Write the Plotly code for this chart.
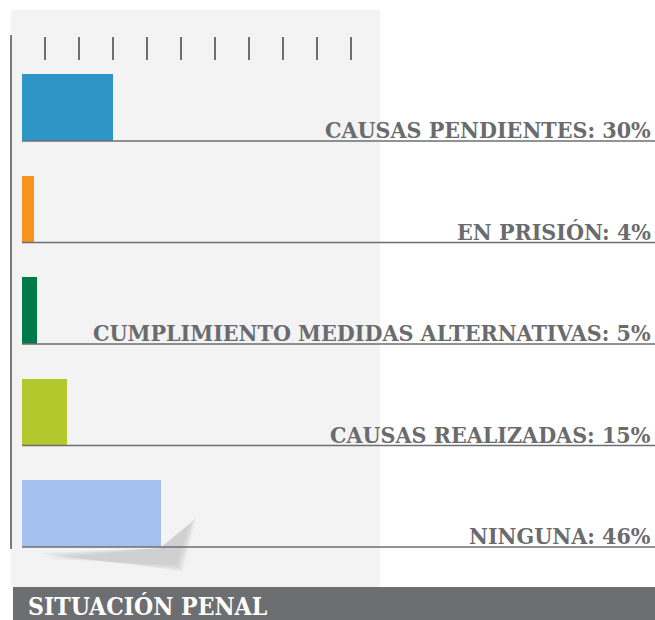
import plotly.graph_objects as go

categories = ["CAUSAS PENDIENTES", "EN PRISIÓN", "CUMPLIMIENTO MEDIDAS ALTERNATIVAS",
              "CAUSAS REALIZADAS", "NINGUNA"]
values = [30, 4, 5, 15, 46]
colors = ["#2e96c7", "#f7941d", "#00794a", "#b2c82c", "#a4c1ee"]
title = "SITUACIÓN PENAL"

W, H = 655, 620
X0 = 22          # pixel of value 0
PX_PER = 3.03    # pixels per percent
xr = [-X0 / PX_PER, (W - X0) / PX_PER]
TOP, STEP = 107.5, 101.5
yr = [(H - TOP) / STEP, -TOP / STEP]
BW = 67 / STEP
FONT = "DejaVu Serif Condensed, DejaVu Serif, serif"

def px(x):
    return x / W

def py(y):
    return 1 - y / H

fig = go.Figure()
fig.add_trace(go.Bar(
    x=values, y=categories, orientation="h", marker=dict(color=colors, line=dict(width=0)),
    width=BW, hoverinfo="skip", showlegend=False,
))

shapes = []
# background panel
shapes.append(dict(type="rect", xref="paper", yref="paper", x0=px(11), x1=px(380),
                   y0=py(587), y1=py(10), fillcolor="#f3f3f3", line=dict(width=0), layer="below"))
# soft shadow under last bar
for i, op in enumerate([0.04, 0.05, 0.06, 0.08]):
    d = 8 - 2 * i
    shapes.append(dict(type="path", xref="paper", yref="paper",
                       path=f"M {px(38+d)},{py(551+d)} L {px(184-d)},{py(573-d)} L {px(198-d)},{py(516+d)} L {px(160)},{py(548)} Z",
                       fillcolor="#555555", opacity=op, line=dict(width=0), layer="below"))
# left vertical line
shapes.append(dict(type="line", xref="paper", yref="paper", x0=px(11), x1=px(11),
                   y0=py(35), y1=py(549), line=dict(color="#7a7a7a", width=2)))
# decorative ticks
for k in range(10):
    x = 45 + 34 * k
    shapes.append(dict(type="line", xref="paper", yref="paper", x0=px(x), x1=px(x),
                       y0=py(37), y1=py(60), line=dict(color="#6d6e71", width=2)))
annotations = []
for i, (c, v) in enumerate(zip(categories, values)):
    yb = i + BW / 2
    shapes.append(dict(type="line", xref="paper", yref="y", x0=px(X0), x1=1,
                       y0=yb, y1=yb, line=dict(color="#6d6e71", width=1.3)))
    annotations.append(dict(xref="paper", yref="y", x=px(653), y=yb, xanchor="right",
                            yanchor="bottom", yshift=-4, showarrow=False,
                            text=f"<b>{c}: {v}%</b>",
                            font=dict(family=FONT, size=23, color="#6a6b6e")))
# title band
shapes.append(dict(type="rect", xref="paper", yref="paper", x0=px(13), x1=1,
                   y0=0, y1=py(587), fillcolor="#6d6e71", line=dict(width=0)))
annotations.append(dict(xref="paper", yref="paper", x=px(26), y=py(606), xanchor="left",
                        yanchor="middle", showarrow=False, text=f"<b>{title}</b>",
                        font=dict(family=FONT, size=24.5, color="white")))

fig.update_layout(
    width=W, height=H, margin=dict(l=0, r=0, t=0, b=0),
    paper_bgcolor="white", plot_bgcolor="rgba(0,0,0,0)",
    xaxis=dict(range=xr, visible=False, fixedrange=True),
    yaxis=dict(range=yr, visible=False, fixedrange=True, type="category",
               categoryorder="array", categoryarray=categories),
    shapes=shapes, annotations=annotations, bargap=0,
)
fig.write_html("out.html", config={"displayModeBar": False},
               post_script="document.body.style.margin='0';document.body.style.overflow='hidden';")
